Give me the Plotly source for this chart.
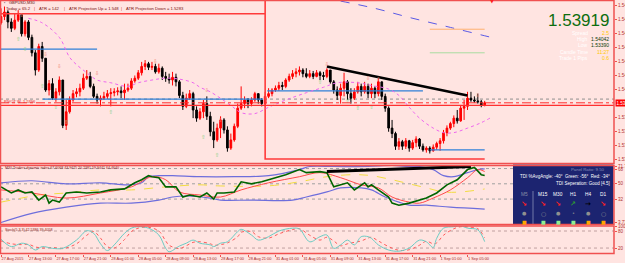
import plotly.graph_objects as go

PLOT_W, PLOT_H = 614, 254

# ---------------- data ----------------
date_labels = ["27 Aug 2015", "27 Aug 13:00", "27 Aug 17:00", "27 Aug 21:00", "28 Aug 01:00",
               "28 Aug 05:00", "28 Aug 09:00", "28 Aug 13:00", "28 Aug 17:00", "28 Aug 21:00",
               "31 Aug 01:00", "31 Aug 05:00", "31 Aug 09:00", "31 Aug 13:00", "31 Aug 17:00",
               "31 Aug 21:00", "1 Sep 01:00", "1 Sep 05:00"]
label_bars = [0, 8, 16, 24, 32, 40, 48, 56, 64, 72, 80, 88, 96, 104, 112, 120, 128, 136]

first_open = 1.5480
closes = [1.5487, 1.5492, 1.5481, 1.5474, 1.5483, 1.5489, 1.5468, 1.5481, 1.5464, 1.5447,
          1.5428, 1.5454, 1.5441, 1.5406, 1.5413, 1.5397, 1.5404, 1.5417, 1.5367, 1.5382,
          1.5395, 1.5402, 1.5404, 1.5408, 1.5419, 1.5421, 1.5410, 1.5399, 1.5395, 1.5397,
          1.5399, 1.5402, 1.5403, 1.5404, 1.5405, 1.5403, 1.5406, 1.5408, 1.5416, 1.5419,
          1.5425, 1.5432, 1.5435, 1.5431, 1.5432, 1.5426, 1.5430, 1.5421, 1.5419, 1.5417,
          1.5420, 1.5415, 1.5400, 1.5388, 1.5397, 1.5402, 1.5384, 1.5375, 1.5382, 1.5391,
          1.5377, 1.5360, 1.5351, 1.5364, 1.5373, 1.5362, 1.5342, 1.5351, 1.5366, 1.5386,
          1.5391, 1.5395, 1.5391, 1.5395, 1.5402, 1.5395, 1.5391, 1.5399, 1.5402, 1.5406,
          1.5408, 1.5411, 1.5410, 1.5417, 1.5421, 1.5424, 1.5426, 1.5428, 1.5424, 1.5421,
          1.5424, 1.5421, 1.5425, 1.5422, 1.5421, 1.5428, 1.5415, 1.5406, 1.5400, 1.5408,
          1.5415, 1.5402, 1.5397, 1.5404, 1.5410, 1.5404, 1.5410, 1.5402, 1.5408, 1.5402,
          1.5415, 1.5399, 1.5386, 1.5364, 1.5358, 1.5344, 1.5349, 1.5344, 1.5350, 1.5342,
          1.5348, 1.5352, 1.5344, 1.5340, 1.5342, 1.5339, 1.5343, 1.5347, 1.5350, 1.5359,
          1.5364, 1.5369, 1.5375, 1.5372, 1.5386, 1.5388, 1.5397, 1.5395, 1.5394, 1.5393,
          1.5389, 1.5392]
highs = [1.5496, 1.5498, 1.5494, 1.5485, 1.5490, 1.5494, 1.5489, 1.5483, 1.5483, 1.5467,
         1.5450, 1.5457, 1.5459, 1.5441, 1.5417, 1.5419, 1.5408, 1.5421, 1.5417, 1.5395,
         1.5399, 1.5406, 1.5408, 1.5413, 1.5424, 1.5428, 1.5426, 1.5413, 1.5402, 1.5400,
         1.5404, 1.5406, 1.5408, 1.5408, 1.5409, 1.5410, 1.5413, 1.5413, 1.5419, 1.5422,
         1.5428, 1.5437, 1.5439, 1.5437, 1.5437, 1.5435, 1.5435, 1.5432, 1.5426, 1.5424,
         1.5426, 1.5424, 1.5417, 1.5404, 1.5402, 1.5406, 1.5404, 1.5388, 1.5386, 1.5395,
         1.5399, 1.5382, 1.5371, 1.5369, 1.5377, 1.5375, 1.5366, 1.5358, 1.5369, 1.5391,
         1.5410, 1.5399, 1.5397, 1.5398, 1.5404, 1.5402, 1.5397, 1.5404, 1.5408, 1.5408,
         1.5411, 1.5415, 1.5415, 1.5419, 1.5424, 1.5428, 1.5430, 1.5432, 1.5430, 1.5430,
         1.5428, 1.5427, 1.5428, 1.5427, 1.5426, 1.5430, 1.5428, 1.5417, 1.5410, 1.5413,
         1.5425, 1.5417, 1.5408, 1.5408, 1.5415, 1.5413, 1.5415, 1.5413, 1.5413, 1.5410,
         1.5419, 1.5415, 1.5402, 1.5388, 1.5373, 1.5360, 1.5353, 1.5351, 1.5353, 1.5351,
         1.5351, 1.5355, 1.5353, 1.5347, 1.5344, 1.5344, 1.5346, 1.5349, 1.5353, 1.5362,
         1.5367, 1.5371, 1.5378, 1.5384, 1.5389, 1.5395, 1.5404, 1.5404, 1.5399, 1.5402,
         1.5395, 1.5394]
lows = [1.5478, 1.5483, 1.5474, 1.5470, 1.5472, 1.5481, 1.5465, 1.5465, 1.5461, 1.5443,
        1.5422, 1.5426, 1.5437, 1.5404, 1.5400, 1.5395, 1.5393, 1.5400, 1.5364, 1.5362,
        1.5380, 1.5393, 1.5398, 1.5399, 1.5406, 1.5417, 1.5408, 1.5397, 1.5391, 1.5388,
        1.5395, 1.5396, 1.5388, 1.5399, 1.5400, 1.5397, 1.5395, 1.5404, 1.5406, 1.5414,
        1.5417, 1.5422, 1.5428, 1.5428, 1.5428, 1.5424, 1.5424, 1.5417, 1.5415, 1.5413,
        1.5411, 1.5410, 1.5397, 1.5384, 1.5386, 1.5395, 1.5375, 1.5371, 1.5373, 1.5375,
        1.5373, 1.5355, 1.5342, 1.5349, 1.5353, 1.5358, 1.5338, 1.5340, 1.5349, 1.5364,
        1.5384, 1.5386, 1.5386, 1.5388, 1.5393, 1.5391, 1.5388, 1.5388, 1.5397, 1.5399,
        1.5404, 1.5405, 1.5406, 1.5408, 1.5415, 1.5418, 1.5420, 1.5422, 1.5420, 1.5419,
        1.5419, 1.5418, 1.5420, 1.5417, 1.5417, 1.5419, 1.5413, 1.5402, 1.5395, 1.5391,
        1.5399, 1.5395, 1.5391, 1.5395, 1.5402, 1.5399, 1.5402, 1.5397, 1.5397, 1.5397,
        1.5399, 1.5395, 1.5382, 1.5360, 1.5353, 1.5340, 1.5340, 1.5340, 1.5341, 1.5338,
        1.5340, 1.5343, 1.5341, 1.5338, 1.5337, 1.5336, 1.5338, 1.5340, 1.5339, 1.5347,
        1.5355, 1.5362, 1.5365, 1.5369, 1.5371, 1.5373, 1.5384, 1.5393, 1.5392, 1.5391,
        1.5387, 1.5388]
opens = [first_open] + closes[:-1]
bars = list(range(len(closes)))

# displaced moving average (pink dotted)
ma_bars = [8, 12, 17, 20, 22, 25, 28, 32, 37, 40, 44, 48, 52, 56, 58, 61, 67, 70, 74, 78,
           83, 89, 94, 98, 104, 108, 113, 116, 119, 122, 126, 129, 132, 136, 140, 143]
ma_vals = [1.5485, 1.5480, 1.5464, 1.5442, 1.5434, 1.5425, 1.5417, 1.5414, 1.5410, 1.5414,
           1.5417, 1.5419, 1.5418, 1.5414, 1.5409, 1.5404, 1.5389, 1.5381, 1.5380, 1.5387,
           1.5395, 1.5403, 1.5409, 1.5414, 1.5414, 1.5411, 1.5407, 1.5400, 1.5387, 1.5375,
           1.5364, 1.5359, 1.5359, 1.5364, 1.5370, 1.5376]
# slow MA (blue dashed, top right)
slow_ma_bars = [99, 109, 119, 131, 144]
slow_ma_vals = [1.5504, 1.5496, 1.5486, 1.5475, 1.5463]
# projection lines
proj_bars = [125, 141]
proj_up = 1.5473
proj_dn = 1.5447
# trendline on price
trend_bars = [95, 136]
trend_vals = [1.5432, 1.5400]
# support / resistance segments (blue)
sr_segments = [([-0.3, 28], 1.5451), ([12.2, 76.4], 1.5396), ([77.6, 123], 1.5405), ([125, 141], 1.5340)]
pivot_level = 1.5396
bid_price = 1.53919
daily_open = 1.5389
day_bar = 77
prev_box_top = 1.5490
prev_box_bottom = 1.5330
box_end_bar = 141

# fractals
frac_up_bars = [5, 7, 12, 16, 19, 32, 59, 63, 93, 101, 104, 108]
frac_up_px = [1.5461, 1.5450, 1.5410, 1.5387, 1.5370, 1.5381, 1.5354, 1.5334, 1.5414, 1.5393, 1.5386, 1.5387]
frac_dn_bars = [6, 13, 17, 28, 45, 60, 64, 95, 107, 110, 139]
frac_dn_px = [1.5488, 1.5445, 1.5432, 1.5424, 1.5437, 1.5405, 1.5372, 1.5434, 1.5418, 1.5417, 1.5400]

price_ticks = [1.54995, 1.54840, 1.54685, 1.54530, 1.54375, 1.54220, 1.54065, 1.53755, 1.53600, 1.53445, 1.53290]

# Traders Dynamic Index
tdi_up_bars = [0, 9, 19, 29, 37, 41, 43, 46, 50, 58, 68, 78, 87, 90, 97, 107, 114, 119, 122, 126, 129, 132, 136, 139, 141]
tdi_up = [51.2, 53.6, 50.0, 51.2, 48.8, 51.2, 58.4, 59.6, 59.6, 58.4, 58.4, 59.6, 66.8, 70.4, 70.4, 70.4, 71.6, 70.4, 70.4, 66.8, 59.6, 58.4, 63.2, 66.8, 67.6]
tdi_lo_bars = [0, 9, 19, 29, 38, 46, 50, 54, 61, 64, 73, 85, 89, 95, 99, 105, 108, 112, 116, 119, 124, 131, 141]
tdi_lo = [4.4, 15.2, 22.4, 27.2, 27.2, 30.8, 34.4, 35.6, 33.2, 30.8, 30.8, 30.8, 34.4, 40.4, 45.2, 45.2, 42.8, 34.4, 28.4, 24.8, 24.8, 22.4, 20.2]
tdi_mid_bars = [0, 6, 11, 19, 29, 38, 48, 58, 63, 78, 87, 95, 103, 108, 114, 119, 124, 129, 134, 141]
tdi_mid = [28.4, 33.2, 36.8, 39.2, 42.8, 42.8, 46.4, 48.8, 47.6, 47.6, 52.4, 58.4, 60.8, 59.6, 54.8, 50.0, 45.2, 40.4, 40.4, 43.9]
tdi_green_bars = [0, 3, 5, 7, 9, 11, 13, 14, 15, 17, 19, 22, 25, 29, 32, 36, 39, 41, 43, 44, 46, 48, 51, 53, 55,
                  58, 60, 62, 63, 65, 68, 70, 73, 76, 79, 83, 87, 89, 93, 95, 97, 99, 101, 103, 106, 107, 108,
                  110, 113, 114, 116, 119, 120, 124, 127, 130, 133, 136, 138, 140, 141]
tdi_green = [46.4, 39.2, 42.8, 39.2, 40.4, 30.8, 36.8, 27.2, 30.8, 28.4, 39.2, 40.4, 39.2, 40.4, 42.8, 44.0,
             51.2, 54.8, 59.6, 58.4, 57.2, 46.4, 46.4, 34.4, 36.8, 34.4, 39.2, 32.0, 39.2, 39.2, 40.4, 52.4,
             50.0, 52.4, 56.0, 60.8, 66.8, 63.2, 64.4, 63.2, 46.4, 48.8, 51.2, 42.8, 51.2, 46.4, 48.8, 42.8,
             34.4, 27.2, 24.8, 27.2, 28.4, 33.2, 39.2, 48.8, 54.8, 66.8, 69.2, 60.8, 59.9]
tdi_red_bars = [0, 9, 19, 29, 38, 44, 48, 52, 58, 64, 70, 78, 87, 93, 99, 105, 110, 114, 119, 122, 126, 131, 136, 139, 141]
tdi_red = [42.8, 39.2, 33.2, 39.2, 46.4, 58.4, 54.8, 40.4, 36.8, 34.4, 42.8, 51.2, 58.4, 63.2, 57.2, 48.8, 45.2, 34.4, 28.4, 27.2, 33.2, 42.8, 57.2, 66.8, 64.5]
tdi_trend_bars = [95, 137]
tdi_trend_vals = [64.4, 70.4]
tdi_levels = [68, 50, 32]

# Stochastic
stoch_bars = [0, 3, 6, 8, 10, 12, 15, 18, 22, 25, 27, 29, 31, 33, 36, 38, 40, 43, 46, 48, 49, 52, 54, 56, 58,
              61, 62, 64, 66, 69, 70, 73, 75, 78, 81, 85, 87, 90, 93, 95, 97, 99, 101, 103, 105, 107, 108,
              110, 113, 116, 119, 122, 124, 126, 127, 129, 132, 134, 136, 139, 141]
stoch_main = [51, 25, 37, 31, 13, 25, 19, 19, 48, 81, 72, 35, 11, 31, 72, 90, 95, 90, 66, 19, 7, 27, 37, 48, 37,
              31, 25, 37, 42, 78, 86, 66, 48, 60, 80, 90, 87, 42, 60, 66, 19, 31, 48, 31, 60, 60, 54,
              31, 13, 9, 20, 48, 42, 22, 54, 90, 95, 98, 90, 84, 42.5]
stoch_sig = [45, 35, 32, 33, 24, 20, 22, 18, 35, 65, 78, 55, 25, 20, 50, 78, 90, 93, 80, 45, 30, 18, 28, 40, 42,
             35, 30, 32, 38, 60, 75, 78, 60, 55, 70, 85, 88, 65, 48, 58, 45, 28, 35, 40, 45, 55, 58,
             45, 25, 12, 14, 30, 44, 35, 38, 65, 88, 95, 94, 88, 56]
stoch_levels = [80, 20]

# ---------------- helpers (layout positions only) ----------------
def px(x):
    return x / PLOT_W


def py(y):
    return (PLOT_H - y) / PLOT_H


RED = '#F05050'
fig = go.Figure()

# ---------- main panel ----------
fig.add_trace(go.Scatter(x=[-0.3, day_bar, day_bar, day_bar, box_end_bar],
                         y=[prev_box_top, prev_box_top, 1.5505, prev_box_bottom, prev_box_bottom],
                         mode='lines', line=dict(color='#FF3A3A', width=1.6), hoverinfo='skip'))
for xs, lvl in sr_segments:
    fig.add_trace(go.Scatter(x=xs, y=[lvl, lvl], mode='lines',
                             line=dict(color='#2F80D8', width=1.3), hoverinfo='skip'))
fig.add_trace(go.Scatter(x=ma_bars, y=ma_vals, mode='lines',
                         line=dict(color='#EE66EE', width=1, dash='dot', shape='spline'), hoverinfo='skip'))
fig.add_trace(go.Scatter(x=slow_ma_bars, y=slow_ma_vals, mode='lines',
                         line=dict(color='#5A5AE6', width=1, dash='dash', shape='spline'), hoverinfo='skip'))
fig.add_trace(go.Scatter(x=proj_bars, y=[proj_up, proj_up], mode='lines',
                         line=dict(color='#FFB070', width=1), hoverinfo='skip'))
fig.add_trace(go.Scatter(x=proj_bars, y=[proj_dn, proj_dn], mode='lines',
                         line=dict(color='#A8DCA0', width=1), hoverinfo='skip'))
fig.add_trace(go.Candlestick(x=bars, open=opens, high=highs, low=lows, close=closes,
                             increasing=dict(fillcolor='#FF0000', line=dict(color='#FF0000', width=1)),
                             decreasing=dict(fillcolor='#000000', line=dict(color='#000000', width=1)),
                             whiskerwidth=0, hoverinfo='skip'))
fig.add_trace(go.Scatter(x=trend_bars, y=trend_vals, mode='lines',
                         line=dict(color='#000000', width=2.5), hoverinfo='skip'))
fig.add_trace(go.Scatter(x=frac_up_bars, y=frac_up_px, mode='text', text=['⇧'] * len(frac_up_bars),
                         textfont=dict(color='#86D086', size=5.5, family='DejaVu Sans'), hoverinfo='skip'))
fig.add_trace(go.Scatter(x=frac_dn_bars, y=frac_dn_px, mode='text', text=['⇩'] * len(frac_dn_bars),
                         textfont=dict(color='#F08878', size=5.5, family='DejaVu Sans'), hoverinfo='skip'))

# ---------- TDI panel ----------
tdi = dict(xaxis='x', yaxis='y2', mode='lines', hoverinfo='skip')
fig.add_trace(go.Scatter(x=tdi_up_bars, y=tdi_up, line=dict(color='#6E6EDC', width=1.2, shape='spline'), **tdi))
fig.add_trace(go.Scatter(x=tdi_lo_bars, y=tdi_lo, line=dict(color='#6E6EDC', width=1.2, shape='spline'), **tdi))
fig.add_trace(go.Scatter(x=tdi_mid_bars, y=tdi_mid, line=dict(color='#F2DC40', width=1, dash='dash', shape='spline'), **tdi))
fig.add_trace(go.Scatter(x=tdi_red_bars, y=tdi_red, line=dict(color='#FF4A4A', width=1, shape='spline'), **tdi))
fig.add_trace(go.Scatter(x=tdi_green_bars, y=tdi_green, line=dict(color='#006400', width=1.6), **tdi))
fig.add_trace(go.Scatter(x=tdi_trend_bars, y=tdi_trend_vals, line=dict(color='#000000', width=3), **tdi))

# ---------- Stoch panel ----------
st = dict(xaxis='x', yaxis='y3', mode='lines', hoverinfo='skip')
fig.add_trace(go.Scatter(x=stoch_bars, y=stoch_sig, line=dict(color='#FF5A5A', width=1, dash='dot', shape='spline'), **st))
fig.add_trace(go.Scatter(x=stoch_bars, y=stoch_main, line=dict(color='#6CCCC4', width=1, shape='spline'), **st))

# ---------- shapes ----------
shapes = []
shapes.append(dict(type='line', xref='paper', yref='y', x0=0, x1=1, y0=pivot_level, y1=pivot_level,
                   line=dict(color='#909090', width=1, dash='dot'), layer='below'))
shapes.append(dict(type='line', xref='paper', yref='y', x0=0, x1=1, y0=bid_price, y1=bid_price,
                   line=dict(color='#FF3030', width=1, dash='dashdot')))
shapes.append(dict(type='line', xref='paper', yref='y', x0=0, x1=1, y0=daily_open, y1=daily_open,
                   line=dict(color='#FF3030', width=1.3)))
for lv in tdi_levels:
    shapes.append(dict(type='line', xref='paper', yref='y2', x0=0, x1=1, y0=lv, y1=lv,
                       line=dict(color='#A0A0A0', width=1, dash='dot'), layer='below'))
for lv in stoch_levels:
    shapes.append(dict(type='line', xref='paper', yref='y3', x0=0, x1=1, y0=lv, y1=lv,
                       line=dict(color='#C0A0A0', width=1, dash='dot'), layer='below'))
shapes.append(dict(type='rect', xref='paper', yref='paper', x0=px(513), x1=px(613.5), y0=py(224), y1=py(164.5),
                   fillcolor='#1C2470', line=dict(width=0)))
shapes.append(dict(type='line', xref='paper', yref='paper', x0=px(533), x1=px(533), y0=py(224), y1=py(191),
                   line=dict(color='#7078A8', width=1)))
for top, bot in [(0.5, 163.5), (165.5, 224.5), (226, 253.5)]:
    shapes.append(dict(type='rect', xref='paper', yref='paper', x0=px(0.5), x1=px(614), y0=py(bot), y1=py(top),
                       line=dict(color=RED, width=1.5)))

# ---------- annotations ----------
ann = []


def text(x, y, s, size=4.5, color='#7A1010', xanchor='left', family='Liberation Sans'):
    ann.append(dict(x=px(x), y=py(y), xref='paper', yref='paper', text=s,
                    showarrow=False, xanchor=xanchor, yanchor='middle',
                    font=dict(size=size, color=color, family=family)))


text(2, 3.0, '▪', size=3.5, color='#505050')
text(7, 3.0, 'GBPUSD,M30', size=4, color='#5A1010')
text(4, 8.8, 'Today = 65.2', size=4.2)
text(32, 8.8, '|', size=4.2, color='#E03030')
text(37, 8.8, 'ATR = 142', size=4.2)
text(62, 8.8, '|', size=4.2, color='#E03030')
text(67, 8.8, 'ATR Projection Up = 1.548', size=4.2)
text(119, 8.8, '|', size=4.2, color='#E03030')
text(124, 8.8, 'ATR Projection Down = 1.5283', size=4.2)
text(2, 101.5, 'PIVOT W  1.5396', size=4, color='#E02020')

text(611, 21, f'{bid_price:.5f}', size=17, color='#0E6E0E', xanchor='right', family='Liberation Sans')
rows = [(33, 'Spread', '2.5', '#FFC800'), (39, 'High', '1.54042', '#0B3D0B'), (45, 'Low', '1.53390', '#0B3D0B'),
        (52, 'Candle Time', '11:27', '#FFC800'), (58, 'Trade 1 Pips', '0.6', '#FFC800')]
for yy, lab, val, col in rows:
    text(590, yy, lab, size=5, color='#FFFFFF', xanchor='right')
    text(611, yy, val, size=5, color=col, xanchor='right')
text(492, 1.5, '▼', size=5, color='#FF2020', xanchor='center', family='DejaVu Sans')

ann.append(dict(x=px(615), y=bid_price, xref='paper', yref='y', text=f'{bid_price:.5f}', showarrow=False,
                xanchor='left', yanchor='middle', bgcolor='#FF0000', borderpad=0.5,
                font=dict(size=4.5, color='#FFFFFF', family='Liberation Sans')))

text(3, 168, 'M30 Traders dynamic index 67.6068 43.9475 20.2381 59.9441 64.4640', size=3.6, color='#8B1A1A')
text(3, 229.5, 'Stoch(5,3,3) 42.5386 39.4058', size=3.6, color='#8B1A1A')

text(607, 169.5, 'Panel Ratio: 9.50', size=4.3, color='#8A90B8', xanchor='right')
text(612, 176, 'TDI %AvgAngle: -40°  Green: -56°  Red: -34°', size=4.5, color='#FFFFFF', xanchor='right')
text(612, 183, 'TDI Seperation: Good [4.5]', size=4.5, color='#FFFFFF', xanchor='right')
tfs = [(524, 'M5', '#8890A8', '↘', '#FF2020', '●', 5, '#FFA500'),
       (543, 'M15', '#FFFFFF', '↘', '#FF2020', '○', 6, '#90EE90'),
       (558, 'M30', '#FFFFFF', '↘', '#FF2020', '●', 5, '#90EE90'),
       (573, 'H1', '#FFFFFF', '↗', '#2E9B2E', '•', 5, '#90EE90'),
       (588, 'H4', '#FFFFFF', '→', '#000000', '●', 5, '#FFA500'),
       (603, 'D1', '#FFFFFF', '↘', '#FF2020', '○', 6, '#FFA500')]
for xx, lab, lc, arr, ac, dot, ds, sq in tfs:
    text(xx, 194, lab, size=4.8, color=lc, xanchor='center')
    text(xx, 203.5, f'<b>{arr}</b>', size=7, color=ac, xanchor='center', family='DejaVu Sans')
    text(xx, 213, dot, size=ds, color='#909090', xanchor='center', family='DejaVu Sans')
    text(xx, 221.5, '■', size=5, color=sq, xanchor='center', family='DejaVu Sans')

axis_font = dict(size=4.5, color='#B03030', family='Liberation Sans')
yax_common = dict(side='right', anchor='x', showgrid=False, zeroline=False, ticks='outside', ticklen=2,
                  tickcolor=RED, tickfont=axis_font, automargin=False, fixedrange=True, showline=False)

fig.update_layout(
    width=625, height=263,
    margin=dict(l=0, r=11, t=0, b=9, pad=0),
    paper_bgcolor='#FFE4E1', plot_bgcolor='#FFE4E1',
    showlegend=False, hovermode=False, dragmode=False,
    template='none',
    xaxis=dict(domain=[0, 1], range=[-0.3, 178.7], anchor='y3', showgrid=False, zeroline=False,
               tickvals=label_bars, ticktext=date_labels, ticks='outside', ticklen=2, tickcolor=RED,
               tickangle=0,
               tickfont=dict(size=3.9, color='#A52A2A', family='Liberation Sans'),
               ticklabelposition='outside right', showline=False,
               rangeslider=dict(visible=False), automargin=False, fixedrange=True),
    yaxis=dict(domain=[py(163.5), 1], range=[1.53250, 1.55052], tickvals=price_ticks,
               ticktext=[f'{t:.5f}' for t in price_ticks], **yax_common),
    yaxis2=dict(domain=[py(224.5), py(165.5)], range=[2.0, 71.6], tickvals=[71.0, 66.5, 50, 32, 4.0],
                ticktext=['71.7389', '68', '50', '32', '3.7389'], **yax_common),
    yaxis3=dict(domain=[0, py(226)], range=[-1, 97.6], tickvals=[96, 80, 20],
                ticktext=['100', '80', '20'], **yax_common),
    shapes=shapes,
    annotations=ann,
)

fig.write_html('out.html', config={'displayModeBar': False, 'staticPlot': True})
